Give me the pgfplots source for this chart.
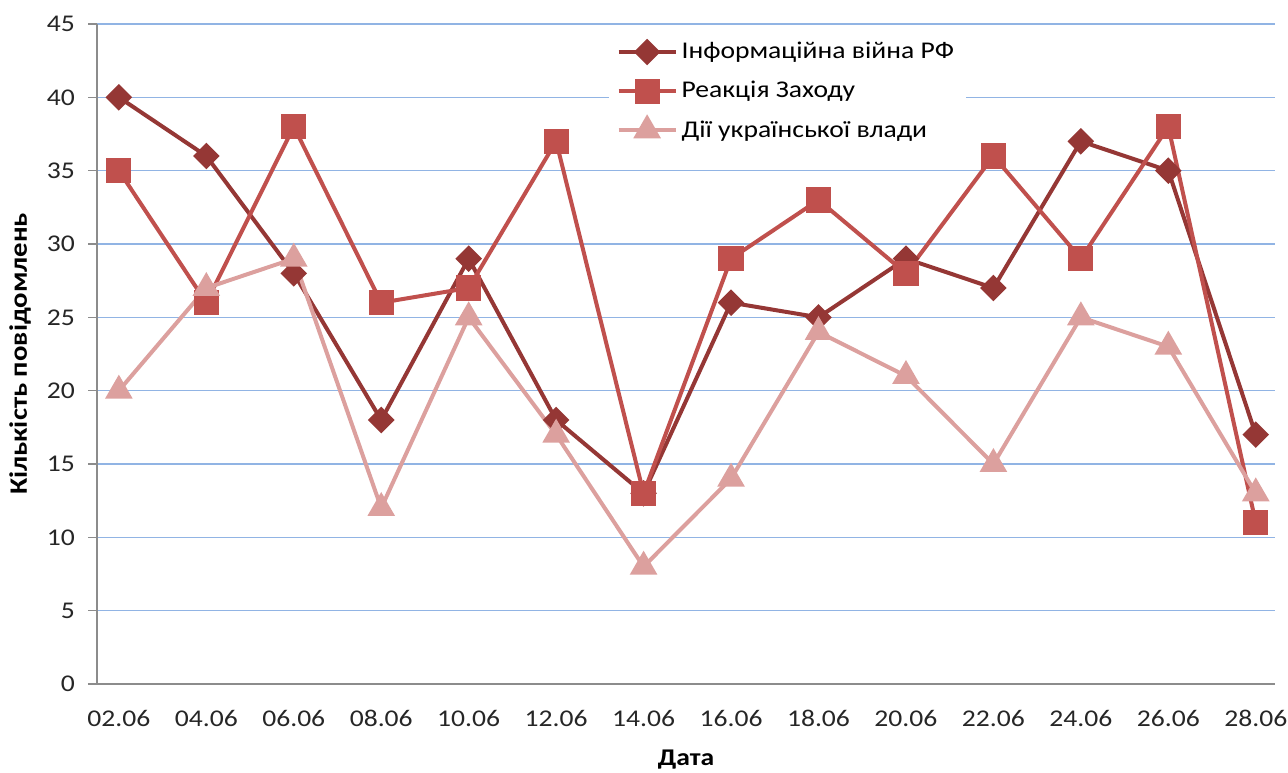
\documentclass[border=0pt]{standalone}
\usepackage{pgfplots}
\pgfplotsset{compat=1.18}
\usepackage{fontspec}
\setmainfont{Carlito}[FakeStretch=1.15]
\definecolor{sA}{RGB}{149,55,53}
\definecolor{sB}{RGB}{192,80,77}
\definecolor{sC}{RGB}{220,160,158}
\definecolor{grd}{RGB}{145,180,228}
\definecolor{axc}{RGB}{140,140,140}
\begin{document}
\begin{tikzpicture}
\begin{axis}[
  scale only axis,
  width=589pt, height=330pt,
  xmin=-0.25, xmax=13.22,
  ymin=0, ymax=45,
  ytick={0,5,...,45},
  xtick={0,...,13},
  xticklabels={02.06,04.06,06.06,08.06,10.06,12.06,14.06,16.06,18.06,20.06,22.06,24.06,26.06,28.06},
  axis x line*=bottom, axis y line*=left,
  axis line style={draw=axc, line width=0.6pt, -},
  x axis line style={shorten <=-4.5pt},
  ymajorgrids, grid style={draw=grd, line width=0.8pt},
  major x tick style={draw=none},
  ytick style={draw=axc, line width=0.6pt},
  tick align=outside, major tick length=4.5pt,
  /pgf/number format/assume math mode=true,
  ticklabel style={font=\fontsize{12}{14}\selectfont, text=black!85},
  yticklabel style={xshift=-3pt},
  xticklabel style={inner xsep=0pt, yshift=-5pt},
  xlabel={\textbf{Дата}},
  ylabel={\textbf{Кількість повідомлень}},
  xlabel style={font=\fontsize{12}{14}\selectfont, inner sep=0pt, at={(axis description cs:0.5,0)}, anchor=center, yshift=-38pt},
  ylabel style={font=\fontsize{12.5}{14}\selectfont, inner sep=0pt, at={(axis description cs:0,0.5)}, anchor=center, rotate=0, yshift=38.5pt},
  legend style={at={(axis description cs:0.434,0.988)}, anchor=north west, draw=none, fill=white,
    font=\fontsize{12}{14}\selectfont, row sep=5.8pt, inner xsep=4pt, inner ysep=3pt,
    cells={anchor=west}},
  legend image code/.code={\draw[#1, mark repeat=2, mark phase=2] plot coordinates {(0cm,0cm) (0.5cm,0cm) (1cm,0cm)};},
  clip=false,
]
\addplot[sA, line width=2pt, mark=square*, mark size=3.7pt, mark options={rotate=45, solid}] coordinates {
(0,40) (1,36) (2,28) (3,18) (4,29) (5,18) (6,13) (7,26) (8,25) (9,29) (10,27) (11,37) (12,35) (13,17)};
\addlegendentry{Інформаційна війна РФ}
\addplot[sB, line width=2pt, mark=square*, mark size=5.3pt] coordinates {
(0,35) (1,26) (2,38) (3,26) (4,27) (5,37) (6,13) (7,29) (8,33) (9,28) (10,36) (11,29) (12,38) (13,11)};
\addlegendentry{Реакція Заходу}
\addplot[sC, line width=2pt, mark=triangle*, mark size=6pt] coordinates {
(0,20) (1,27) (2,29) (3,12) (4,25) (5,17) (6,8) (7,14) (8,24) (9,21) (10,15) (11,25) (12,23) (13,13)};
\addlegendentry{Дії української влади}
\end{axis}
\path (current axis.south west) +(-48.5pt,-44.5pt) (current axis.north east) +(6.5pt,12pt);
\end{tikzpicture}
\end{document}
